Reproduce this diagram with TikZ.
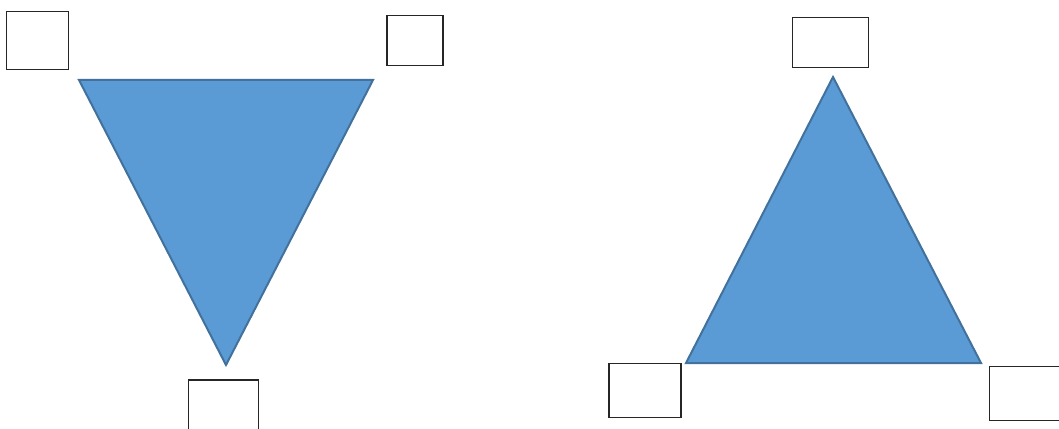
\documentclass[tikz,border=0pt]{standalone}
\usepackage{tikz}
\usetikzlibrary{positioning}
\definecolor{triblue}{HTML}{5B9BD5}
\definecolor{triedge}{HTML}{41719C}
\tikzset{
  corner/.style ={rectangle, draw=black!85, thick, fill=white, inner sep=0pt},
  tri/.style    ={draw=triedge, line width=1.5pt, fill=triblue, line join=miter}
}

\begin{document}
\begin{tikzpicture}[x=0.75pt, y=-0.75pt]
\useasboundingbox (0,0) rectangle (1059,428);
\clip (0,0) rectangle (1059,428);

% Downward triangle (left)
\coordinate (dl) at (79,80);
\coordinate (dr) at (373,80);
\coordinate (db) at (226,365);
\draw[tri] (dl) -- (dr) -- (db) -- cycle;

% Upward triangle (right)
\coordinate (ut) at (833,77);
\coordinate (ul) at (686,363);
\coordinate (ur) at (981,363);
\draw[tri] (ut) -- (ur) -- (ul) -- cycle;

% Empty boxes at the corners
\node[corner, minimum width=46pt, minimum height=43pt] (boxdl) at (37.5,40.5)  {};
\node[corner, minimum width=42pt, minimum height=38pt] (boxdr) at (415,40.5)   {};
\node[corner, minimum width=52pt, minimum height=45pt] (boxdb) at (223.5,410)  {};
\node[corner, minimum width=57pt, minimum height=38pt] (boxut) at (830.5,42.5) {};
\node[corner, minimum width=54pt, minimum height=41pt] (boxul) at (645,390.5)  {};
\node[corner, minimum width=55pt, minimum height=41pt] (boxur) at (1026,393.5) {};
\end{tikzpicture}
\end{document}
